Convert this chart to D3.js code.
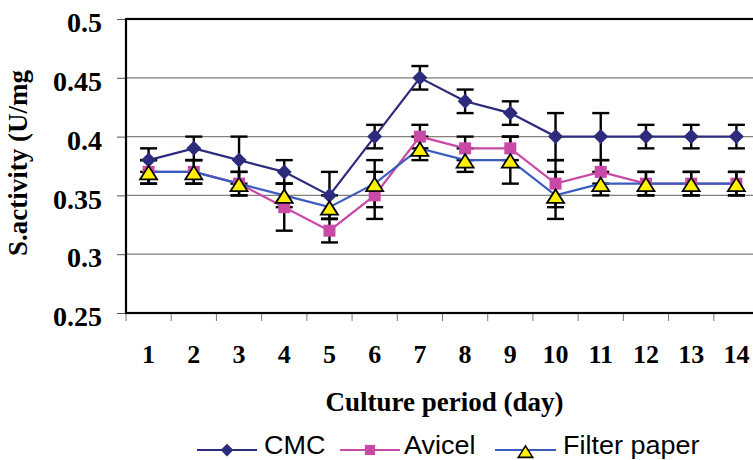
<!DOCTYPE html>
<html>
<head>
<meta charset="utf-8">
<script src="https://cdn.jsdelivr.net/npm/d3@7"></script>
<style>
  body { margin: 0; background: #fff; }
  svg { display: block; }
  .tick-label, .axis-title { font-family: "Liberation Serif", "Times New Roman", serif; font-weight: bold; fill: #000; }
  .legend-label { font-family: "Liberation Sans", Arial, sans-serif; fill: #000; }
</style>
</head>
<body>
<svg id="chart" width="753" height="460"></svg>
<script>
// data
const days = ["1", "2", "3", "4", "5", "6", "7", "8", "9", "10", "11", "12", "13", "14"];
const cmc = [0.38, 0.39, 0.38, 0.37, 0.35, 0.40, 0.45, 0.43, 0.42, 0.40, 0.40, 0.40, 0.40, 0.40];
const cmcErr = [0.01, 0.01, 0.02, 0.01, 0.02, 0.01, 0.01, 0.01, 0.01, 0.02, 0.02, 0.01, 0.01, 0.01];
const avicel = [0.37, 0.37, 0.36, 0.34, 0.32, 0.35, 0.40, 0.39, 0.39, 0.36, 0.37, 0.36, 0.36, 0.36];
const avicelErr = [0.01, 0.01, 0.01, 0.02, 0.01, 0.02, 0.01, 0.01, 0.01, 0.02, 0.01, 0.01, 0.01, 0.01];
const filterPaper = [0.37, 0.37, 0.36, 0.35, 0.34, 0.36, 0.39, 0.38, 0.38, 0.35, 0.36, 0.36, 0.36, 0.36];
const filterErr = [0.01, 0.01, 0.01, 0.01, 0.01, 0.02, 0.01, 0.01, 0.02, 0.02, 0.01, 0.01, 0.01, 0.01];
const yTicks = [0.25, 0.3, 0.35, 0.4, 0.45, 0.5];
const yTickLabels = ["0.25", "0.3", "0.35", "0.4", "0.45", "0.5"];

const plot = { left: 126, right: 759, top: 19, bottom: 313 };

const svg = d3.select("#chart");

const x = d3.scaleBand().domain(days).range([plot.left, plot.right]).padding(0);
const y = d3.scaleLinear().domain([0.25, 0.5]).range([plot.bottom, plot.top]);
const cx = d => x(d) + x.bandwidth() / 2;

// gridlines
svg.append("g").selectAll("line")
    .data(yTicks.slice(1, -1))
    .join("line")
    .attr("x1", plot.left).attr("x2", plot.right)
    .attr("y1", d => y(d)).attr("y2", d => y(d))
    .attr("stroke", "#858078").attr("stroke-width", 1.2);

// y axis ticks and labels
const yAxis = svg.append("g")
    .attr("transform", `translate(${plot.left},0)`)
    .call(d3.axisLeft(y).tickValues(yTicks).tickSize(9).tickFormat((d, i) => yTickLabels[i]));
yAxis.select(".domain").remove();
yAxis.selectAll(".tick line").attr("stroke", "#555").attr("stroke-width", 1);
yAxis.selectAll(".tick text")
    .attr("class", "tick-label")
    .attr("x", -24).attr("dy", "0.45em")
    .style("font-size", "28px");

// x axis ticks at band boundaries
svg.append("g").selectAll("line")
    .data(days)
    .join("line")
    .attr("x1", d => x(d)).attr("x2", d => x(d))
    .attr("y1", plot.bottom).attr("y2", plot.bottom + 8)
    .attr("stroke", "#777").attr("stroke-width", 1);

svg.append("g").selectAll("text")
    .data(days)
    .join("text")
    .attr("class", "tick-label")
    .attr("x", d => cx(d)).attr("y", 363)
    .attr("text-anchor", "middle")
    .style("font-size", "26px")
    .text(d => d);

// plot frame
svg.append("rect")
    .attr("x", plot.left).attr("y", plot.top)
    .attr("width", plot.right - plot.left).attr("height", plot.bottom - plot.top)
    .attr("fill", "none").attr("stroke", "#000").attr("stroke-width", 2.2);

// axis titles
svg.append("text")
    .attr("class", "axis-title")
    .attr("x", (plot.left + plot.right) / 2 + 2).attr("y", 411)
    .attr("text-anchor", "middle")
    .style("font-size", "27px")
    .text("Culture period (day)");

svg.append("text")
    .attr("class", "axis-title")
    .attr("transform", "translate(27,163) rotate(-90)")
    .attr("text-anchor", "middle")
    .style("font-size", "27px")
    .text("S.activity (U/mg");

const series = [
    { name: "CMC", values: cmc, err: cmcErr, color: "#2c2b7c", marker: "diamond" },
    { name: "Avicel", values: avicel, err: avicelErr, color: "#c94aa6", marker: "square" },
    { name: "Filter paper", values: filterPaper, err: filterErr, color: "#3a5cc0", marker: "triangle" }
];

function markerPath(type) {
    if (type === "diamond") return "M0,-7.5L7.5,0L0,7.5L-7.5,0Z";
    if (type === "square") return "M-6,-6H6V6H-6Z";
    return "M0,-6L8.5,7.5H-8.5Z";
}
function drawMarker(g, s) {
    const p = g.append("path").attr("d", markerPath(s.marker));
    if (s.marker === "triangle") p.attr("fill", "#ffef00").attr("stroke", "#000").attr("stroke-width", 1.8).attr("stroke-linejoin", "miter");
    else p.attr("fill", s.color);
}

// error bars
series.forEach(s => {
    const g = svg.append("g").attr("stroke", "#000").attr("stroke-width", 2.4);
    days.forEach((d, i) => {
        const lo = y(s.values[i] - s.err[i]), hi = y(s.values[i] + s.err[i]);
        g.append("line").attr("x1", cx(d)).attr("x2", cx(d)).attr("y1", lo).attr("y2", hi);
        g.append("line").attr("x1", cx(d) - 8.5).attr("x2", cx(d) + 8.5).attr("y1", lo).attr("y2", lo);
        g.append("line").attr("x1", cx(d) - 8.5).attr("x2", cx(d) + 8.5).attr("y1", hi).attr("y2", hi);
    });
});

// lines and markers
const line = d3.line().x((v, i) => cx(days[i])).y(v => y(v));
series.forEach(s => {
    svg.append("path")
        .datum(s.values)
        .attr("d", line)
        .attr("fill", "none")
        .attr("stroke", s.color).attr("stroke-width", 2.2);
});
series.forEach(s => {
    days.forEach((d, i) => {
        drawMarker(svg.append("g").attr("transform", `translate(${cx(d)},${y(s.values[i])})`), s);
    });
});

// legend
const legendItems = [
    { s: series[0], x1: 197, x2: 257, tx: 264 },
    { s: series[1], x1: 340, x2: 400, tx: 404 },
    { s: series[2], x1: 495, x2: 556, tx: 563 }
];
legendItems.forEach(item => {
    const g = svg.append("g");
    g.append("line")
        .attr("x1", item.x1).attr("x2", item.x2)
        .attr("y1", 450).attr("y2", 450)
        .attr("stroke", item.s.color).attr("stroke-width", 2);
    const mg = g.append("g").attr("transform", `translate(${(item.x1 + item.x2) / 2},${item.s.marker === "triangle" ? 451 : 450}) scale(0.85)`);
    drawMarker(mg, item.s);
    g.append("text")
        .attr("class", "legend-label")
        .attr("transform", `translate(${item.tx},454) scale(1.08,1)`)
        .style("font-size", "25px")
        .text(item.s.name);
});
</script>
</body>
</html>
